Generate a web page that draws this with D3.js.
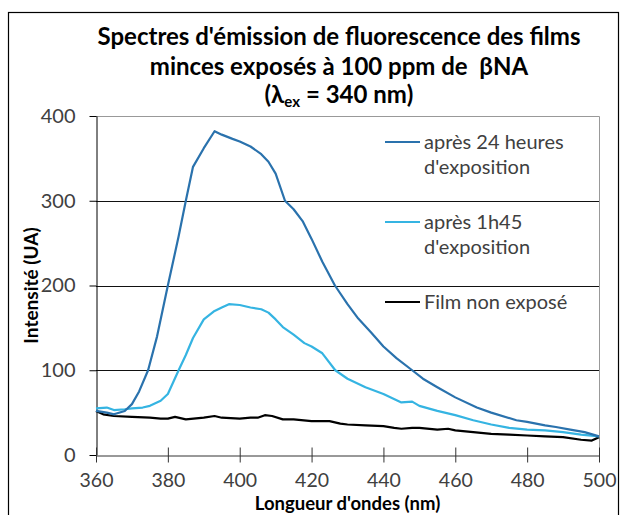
<!DOCTYPE html>
<html>
<head>
<meta charset="utf-8">
<script src="https://cdn.jsdelivr.net/npm/d3@7"></script>
<style>
  body { margin: 0; background: #fff; }
  svg { display: block; font-family: Lato, "Open Sans", sans-serif; }
</style>
</head>
<body>
<div id="chart"></div>
<script>
// Title lines
const titleLines = ["Spectres d'émission de fluorescence des films", "minces exposés à 100 ppm de \u00a0βNA"];
const xTicks = [360, 380, 400, 420, 440, 460, 480, 500];
const yTicks = [0, 100, 200, 300, 400];

// après 24 heures d'exposition
const wl24 = [360, 363, 365, 368, 370, 372, 374.5, 377, 380, 383, 385, 387, 390, 393, 395, 398, 400, 403, 406, 408, 410, 412.6, 415, 417.5, 420, 423, 426.5, 430, 433, 436.7, 440, 443.7, 448, 451, 455, 460, 466, 470, 477, 480, 485, 488, 492, 496, 500];
const int24 = [52, 50, 48, 52, 60, 75, 100, 140, 200, 258, 300, 340, 362, 382, 378, 373, 370, 364, 355, 346, 332, 300, 290, 276, 255, 228, 200, 178, 161, 144, 128, 114, 100, 90, 80, 68, 56, 50, 41, 39, 35, 33, 30, 27, 22];

// après 1h45 d'exposition
const wl145 = [360, 363, 365, 368, 370, 373, 375, 378, 380, 383, 385, 387, 390, 393, 395, 397, 400, 403, 406, 408, 410, 412, 415, 418, 420, 423, 426.6, 430, 435, 440, 445, 448, 450, 455, 460, 465, 470, 475, 480, 485, 490, 495, 500];
const int145 = [55, 56, 53, 54, 55, 56, 58, 64, 72, 100, 118, 138, 160, 170, 174, 178, 177, 174, 172, 168, 160, 151, 142, 132, 128, 120, 100, 90, 80, 72, 62, 63, 58, 52, 47, 41, 36, 32, 30, 29, 27, 24, 22];

// Film non exposé
const wl0 = [360, 362, 365, 370, 375, 378, 380, 382, 385, 390, 393, 395, 400, 403, 405, 407, 409, 412, 415, 420, 425, 428, 430, 435, 440, 443, 445, 448, 450, 455, 458, 460, 465, 470, 475, 480, 485, 490, 495, 498, 500];
const int0 = [52, 48, 46, 45, 44, 43, 43, 45, 42, 44, 46, 44, 43, 44, 44, 47, 46, 42, 42, 40, 40, 37, 36, 35, 34, 32, 31, 32, 32, 30, 31, 29, 27, 25, 24, 23, 22, 21, 18, 17, 21];

const seriesNames = [["après 24 heures", "d'exposition"], ["après 1h45", "d'exposition"], ["Film non exposé"]];
const seriesColors = ["#2a72ad", "#35b4e2", "#000000"];

const W = 621, H = 515;
const svg = d3.select("#chart").append("svg").attr("width", W).attr("height", H);

// outer chart border
svg.append("rect")
    .attr("x", 8.5).attr("y", 12.5)
    .attr("width", 610).attr("height", 530)
    .attr("fill", "none").attr("stroke", "#000").attr("stroke-width", 1.2);

const x = d3.scaleLinear().domain([360, 500]).range([96, 599]);
const y = d3.scaleLinear().domain([0, 400]).range([455, 116]);

// title
const title = svg.append("g").attr("font-weight", "bold").attr("fill", "#000").attr("text-anchor", "middle");
title.selectAll("text.tl").data(titleLines).enter().append("text")
    .attr("class", "tl")
    .attr("x", 339)
    .attr("y", (d, i) => 45 + i * 30)
    .attr("font-size", 24)
    .text(d => d);
const t3 = title.append("text").attr("x", 339).attr("y", 103).attr("font-size", 24);
t3.append("tspan").text("(λ");
t3.append("tspan").attr("font-size", 15).attr("dy", 4).text("ex");
t3.append("tspan").attr("dy", -4).text(" = 340 nm)");

// gridlines
svg.append("g").selectAll("line").data([100, 200, 300]).enter().append("line")
    .attr("x1", x(360)).attr("x2", x(500))
    .attr("y1", d => Math.round(y(d)) + 0.5).attr("y2", d => Math.round(y(d)) + 0.5)
    .attr("stroke", "#111").attr("stroke-width", 1);

// plot area top & right border
svg.append("path")
    .attr("d", `M${x(360)},${Math.round(y(400)) + 0.5}H${Math.round(x(500)) + 0.5}V${y(0)}`)
    .attr("fill", "none").attr("stroke", "#999").attr("stroke-width", 1);

// y axis
const yAxis = svg.append("g")
    .attr("transform", `translate(${Math.round(x(360)) + 0.5},0)`)
    .call(d3.axisLeft(y).tickValues(yTicks).tickSize(7).tickSizeOuter(0).tickPadding(14));
yAxis.select(".domain").attr("stroke", "#000");
yAxis.selectAll(".tick line").attr("stroke", "#000");
yAxis.selectAll("text").attr("font-size", 20).attr("fill", "#404040").attr("font-family", "Lato, sans-serif");

// x axis
const xAxis = svg.append("g")
    .attr("transform", `translate(0,${Math.round(y(0)) + 0.5})`)
    .call(d3.axisBottom(x).tickValues(xTicks).tickSize(7).tickSizeOuter(0).tickPadding(11).tickFormat(d3.format("d")));
xAxis.select(".domain").attr("stroke", "#333");
xAxis.selectAll(".tick line").attr("y1", -8).attr("stroke", "#333");
xAxis.selectAll("text").attr("font-size", 19.5).attr("fill", "#404040").attr("font-family", "Lato, sans-serif");

// series
const line = d3.line().x(d => x(d[0])).y(d => y(d[1]));
const series = [d3.zip(wl0, int0), d3.zip(wl145, int145), d3.zip(wl24, int24)];
const serColors = [seriesColors[2], seriesColors[1], seriesColors[0]];
svg.append("g").selectAll("path").data(series).enter().append("path")
    .attr("d", line)
    .attr("fill", "none")
    .attr("stroke", (d, i) => serColors[i])
    .attr("stroke-width", 2.2)
    .attr("stroke-linejoin", "round");

// legend
const legendY = [142, 222, 302];
const leg = svg.append("g").selectAll("g").data(seriesNames).enter().append("g")
    .attr("transform", (d, i) => `translate(385,${legendY[i]})`);
leg.append("line").attr("x1", 0).attr("x2", 35)
    .attr("stroke", (d, i) => seriesColors[i]).attr("stroke-width", 2.2);
leg.each(function(d) {
    d3.select(this).selectAll("text").data(d).enter().append("text")
        .attr("x", 39).attr("y", (t, j) => 7 + j * 25)
        .attr("font-size", 20).attr("fill", "#404040")
        .text(t => t);
});

// axis titles
svg.append("text")
    .attr("transform", `translate(38,${(y(0) + y(400)) / 2}) rotate(-90)`)
    .attr("text-anchor", "middle").attr("font-weight", "bold").attr("font-size", 19)
    .text("Intensité (UA)");
svg.append("text")
    .attr("x", (x(360) + x(500)) / 2).attr("y", 510)
    .attr("text-anchor", "middle").attr("font-weight", "bold").attr("font-size", 18.5)
    .text("Longueur d'ondes (nm)");
</script>
</body>
</html>
